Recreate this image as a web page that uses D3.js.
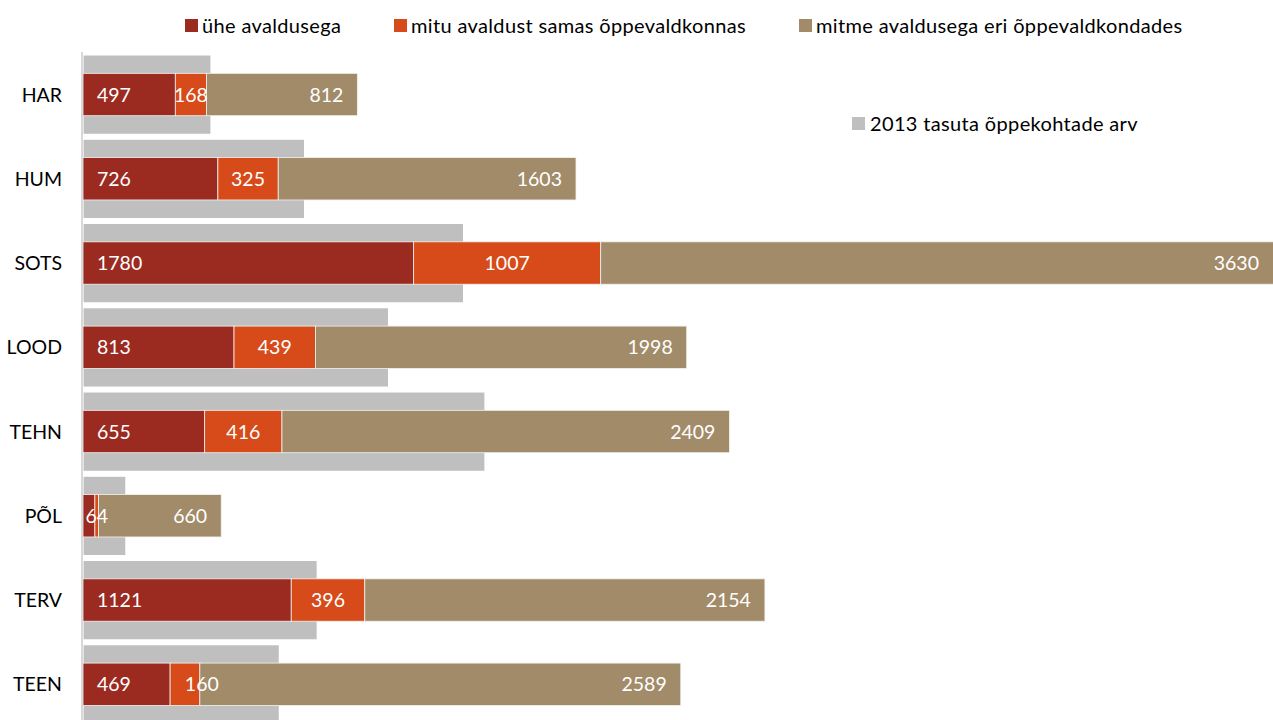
<!DOCTYPE html>
<meta charset="utf-8">
<script src="https://d3js.org/d3.v7.min.js"></script>
<style>
  body { margin: 0; background: #fff; }
  text { font-family: Lato, "Open Sans", sans-serif; }
</style>
<div id="my_dataviz"></div>
<script>
// categories and values
var categories = ["HAR", "HUM", "SOTS", "LOOD", "TEHN", "PÕL", "TERV", "TEEN"];
var single   = [497, 726, 1780, 813, 655, 64, 1121, 469];      // ühe avaldusega
var sameInst = [168, 325, 1007, 439, 416, 20, 396, 160];       // mitu avaldust samas õppevaldkonnas
var otherInst = [812, 1603, 3630, 1998, 2409, 660, 2154, 2589]; // mitme avaldusega eri õppevaldkondades
var places2013 = [689, 1193, 2049, 1645, 2164, 231, 1261, 1057];

var seriesNames = ["ühe avaldusega", "mitu avaldust samas õppevaldkonnas", "mitme avaldusega eri õppevaldkondades"];
var colors = ["#9b2b20", "#d64b19", "#a28b69"];
var grey = "#bfbfbf";

var width = 1273, height = 720;

var svg = d3.select("#my_dataviz")
  .append("svg")
    .attr("width", width)
    .attr("height", height);

// build rows for the stack
var rows = categories.map(function(c, i) {
  return {cat: c, s0: single[i], s1: sameInst[i], s2: otherInst[i], g: places2013[i]};
});
var stack = d3.stack().keys(["s0", "s1", "s2"])(rows);

var maxTotal = d3.max(rows, function(d){ return d.s0 + d.s1 + d.s2 });

// the longest bar runs slightly past the right edge
var x = d3.scaleLinear()
  .domain([0, maxTotal])
  .range([83, 1275]);

var y = d3.scaleBand()
  .domain(categories)
  .range([52.4, 726.4])
  .padding(0);

var bw = y.bandwidth();

// grey bars behind (2013 free study places)
svg.selectAll("greybars")
  .data(rows)
  .enter()
  .append("rect")
    .attr("x", x(0))
    .attr("y", function(d){ return y(d.cat) + bw * 0.03 })
    .attr("width", function(d){ return x(d.g) - x(0) })
    .attr("height", bw * 0.943)
    .attr("fill", grey)
    .attr("stroke", "#fff")
    .attr("stroke-width", 1.2);

// stacked bars
var barH = bw * 0.503;
stack.forEach(function(layer, k) {
  svg.selectAll("seg" + k)
    .data(layer)
    .enter()
    .append("rect")
      .attr("x", function(d){ return x(d[0]) })
      .attr("y", function(d){ return y(d.data.cat) + (bw - barH) / 2 })
      .attr("width", function(d){ return x(d[1]) - x(d[0]) })
      .attr("height", barH)
      .attr("fill", colors[k])
      .attr("stroke", "#f2f2f2")
      .attr("stroke-width", 0.8);
});

// value labels
stack.forEach(function(layer, k) {
  layer.forEach(function(d) {
    var w = x(d[1]) - x(d[0]);
    var v = d[1] - d[0];
    if (w < 8) return;
    var lx, anchor;
    if (w < 30) { lx = x(d[1]) + 2; anchor = "middle"; }
    else if (k === 0) { lx = x(d[0]) + 14; anchor = "start"; }
    else if (k === 1) { lx = (x(d[0]) + x(d[1])) / 2; anchor = "middle"; }
    else { lx = Math.min(x(d[1]), width) - 14; anchor = "end"; }
    svg.append("text")
      .attr("x", lx)
      .attr("y", y(d.data.cat) + bw / 2)
      .attr("dy", "0.36em")
      .attr("text-anchor", anchor)
      .attr("fill", "#fff")
      .style("font-size", "19.5px")
      .text(v);
  });
});

// vertical axis line
svg.append("line")
  .attr("x1", 82).attr("x2", 82)
  .attr("y1", 52).attr("y2", height)
  .attr("stroke", "#d9d9d9")
  .attr("stroke-width", 2);

// category labels
svg.selectAll("catlabels")
  .data(categories)
  .enter()
  .append("text")
    .attr("x", 62)
    .attr("y", function(d){ return y(d) + bw / 2 })
    .attr("dy", "0.36em")
    .attr("text-anchor", "end")
    .attr("fill", "#000")
    .style("font-size", "19.5px")
    .text(function(d){ return d });

// legend
var legendX = [185, 394, 799];
seriesNames.forEach(function(n, i) {
  svg.append("rect")
    .attr("x", legendX[i]).attr("y", 19)
    .attr("width", 13).attr("height", 13)
    .attr("fill", colors[i]);
  svg.append("text")
    .attr("x", legendX[i] + 17).attr("y", 25.5)
    .attr("dy", "0.36em")
    .style("font-size", "20px")
    .style("letter-spacing", "0.35px")
    .text(n);
});
svg.append("rect")
  .attr("x", 852).attr("y", 117)
  .attr("width", 13).attr("height", 13)
  .attr("fill", grey);
svg.append("text")
  .attr("x", 870).attr("y", 124)
  .attr("dy", "0.36em")
  .style("font-size", "20px")
  .style("letter-spacing", "0.35px")
  .text("2013 tasuta õppekohtade arv");
</script>
